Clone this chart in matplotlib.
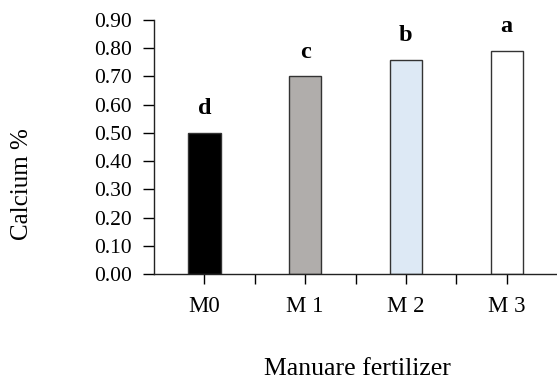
import numpy as np
from matplotlib import pyplot as plt

categories = ['M0', 'M 1', 'M 2', 'M 3']
calcium = [0.50, 0.70, 0.76, 0.79]
letters = ['d', 'c', 'b', 'a']
colors = ['#000000', '#b0adab', '#dde9f5', '#ffffff']

plt.rcParams['font.family'] = ['Liberation Serif', 'DejaVu Serif']

fig = plt.figure(figsize=(5.57, 3.83), dpi=100)
ax = fig.add_axes([0.2765, 0.2846, 0.7235, 0.6632])

x = np.arange(len(categories))
ax.bar(x, calcium, width=0.32, color=colors, edgecolor='#333333', linewidth=1.0)

# significance letters above bars
for xi, v, lab in zip(x, calcium, letters):
    ax.text(xi, v + 0.067, lab, ha='center', va='baseline',
            fontsize=17.5, fontweight='bold')

ax.set_xlim(-0.5, 3.5)
ax.set_ylim(0, 0.9)
ax.set_yticks(np.arange(0, 0.91, 0.1))
ax.set_yticklabels([f'{t:.2f}' for t in np.arange(0, 0.91, 0.1)])
ax.set_xticks(x)
ax.set_xticklabels(categories)
ax.set_xticks([0.5, 1.5, 2.5], minor=True)

ax.tick_params(axis='y', length=8, width=1, pad=8, labelsize=15.5, direction='out')
ax.tick_params(axis='x', which='both', length=7, width=1, pad=9, labelsize=16.5, direction='out')

for s in ['top', 'right']:
    ax.spines[s].set_visible(False)
for s in ['left', 'bottom']:
    ax.spines[s].set_linewidth(1)
    ax.spines[s].set_color('#222222')

ax.set_ylabel('Calcium %', fontsize=18)
ax.yaxis.set_label_coords(-0.30, 0.356)
ax.set_xlabel('Manuare fertilizer', fontsize=18.5)
ax.xaxis.set_label_coords(0.505, -0.33)

fig.savefig('out.png', dpi=100)
